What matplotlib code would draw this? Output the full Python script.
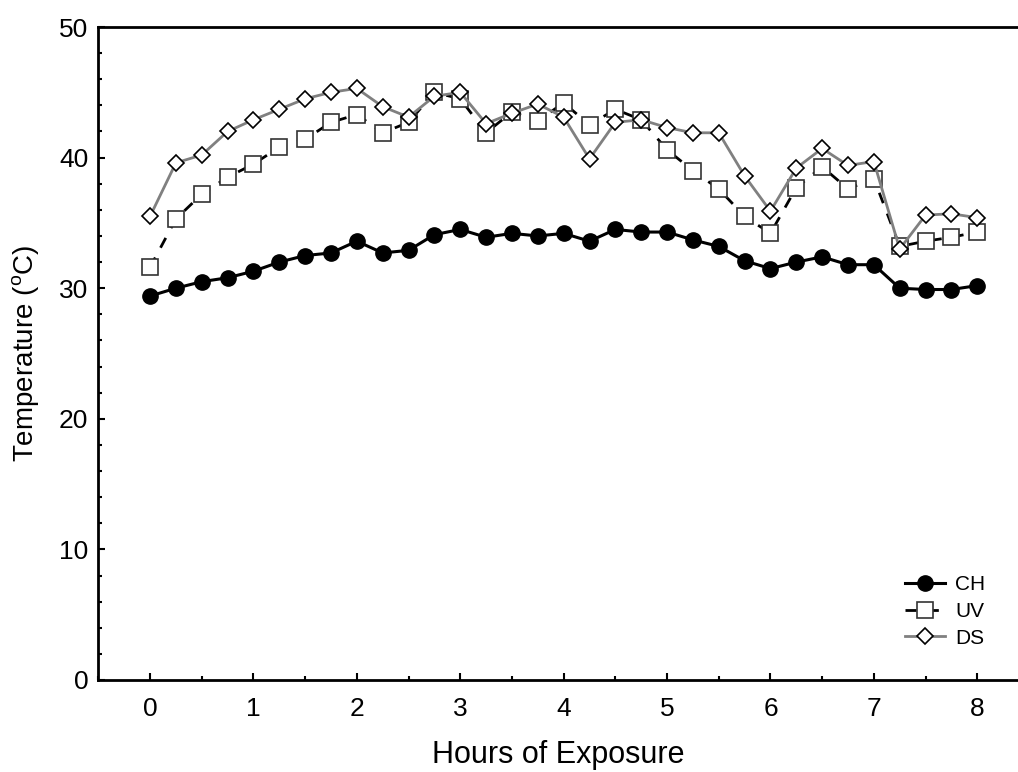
import matplotlib
matplotlib.use('Agg')
import matplotlib.pyplot as plt
from matplotlib.ticker import MultipleLocator

plt.rcParams['font.family'] = ['Liberation Sans', 'DejaVu Sans']
plt.rcParams['mathtext.fontset'] = 'custom'
plt.rcParams['mathtext.rm'] = 'Liberation Sans'

# Sampling times (hours) and temperatures
hours = [0, 0.25, 0.5, 0.75, 1, 1.25, 1.5, 1.75, 2, 2.25, 2.5, 2.75, 3, 3.25, 3.5, 3.75,
         4, 4.25, 4.5, 4.75, 5, 5.25, 5.5, 5.75, 6, 6.25, 6.5, 6.75, 7, 7.25, 7.5, 7.75, 8]

ch = [29.4, 30.0, 30.5, 30.8, 31.3, 32.0, 32.5, 32.7, 33.6, 32.7, 32.9, 34.1, 34.5, 33.9, 34.2, 34.0,
      34.2, 33.6, 34.5, 34.3, 34.3, 33.7, 33.2, 32.1, 31.5, 32.0, 32.4, 31.8, 31.8, 30.0, 29.9, 29.9, 30.2]

uv = [31.6, 35.3, 37.2, 38.5, 39.5, 40.8, 41.4, 42.7, 43.3, 41.9, 42.7, 45.0, 44.5, 41.9, 43.5, 42.8,
      44.2, 42.5, 43.7, 42.9, 40.6, 39.0, 37.6, 35.5, 34.2, 37.7, 39.3, 37.6, 38.4, 33.2, 33.6, 33.9, 34.3]

ds = [35.5, 39.6, 40.2, 42.0, 42.9, 43.7, 44.5, 45.0, 45.3, 43.9, 43.1, 44.7, 45.0, 42.6, 43.4, 44.1,
      43.1, 39.9, 42.7, 42.9, 42.3, 41.9, 41.9, 38.6, 35.9, 39.2, 40.7, 39.4, 39.7, 33.0, 35.6, 35.7, 35.4]

fig = plt.figure(figsize=(10.18, 7.72), dpi=100)
ax = fig.add_axes([0.0963, 0.1192, 0.9037, 0.8458])

ax.plot(hours, ch, color='black', lw=2.2, marker='o', ms=11,
        markerfacecolor='black', markeredgecolor='black', label='CH', zorder=3)
ax.plot(hours, uv, color='black', lw=2, ls=(0, (4, 4)), marker='s', ms=11,
        markerfacecolor='white', markeredgecolor='#333333', markeredgewidth=1.2, label='UV', zorder=2)
ax.plot(hours, ds, color='#808080', lw=2, marker='D', ms=8,
        markerfacecolor='white', markeredgecolor='black', markeredgewidth=1.2, label='DS', zorder=4)

ax.set_xlim(-0.503, 8.394)
ax.set_ylim(0, 50)
ax.xaxis.set_major_locator(MultipleLocator(1))
ax.xaxis.set_minor_locator(MultipleLocator(0.5))
ax.yaxis.set_major_locator(MultipleLocator(10))
ax.yaxis.set_minor_locator(MultipleLocator(2))
ax.tick_params(which='both', direction='in', top=False, right=False, width=1.5)
ax.tick_params(which='major', length=5, labelsize=19)
ax.tick_params(which='minor', length=3)
ax.tick_params(axis='x', pad=12)
ax.tick_params(axis='y', pad=7)

ax.spines['right'].set_visible(False)
for s in ['left', 'bottom', 'top']:
    ax.spines[s].set_linewidth(2)

ax.set_xlabel('Hours of Exposure', fontsize=22, labelpad=14)
ax.set_ylabel('Temperature ($^{\\rm o}$C)', fontsize=20, labelpad=12)

ax.legend(loc='lower right', bbox_to_anchor=(0.985, 0.021), frameon=False, fontsize=15,
          handlelength=1.9, handletextpad=0.5, labelspacing=0.37)

fig.savefig('out.png', dpi=100)
